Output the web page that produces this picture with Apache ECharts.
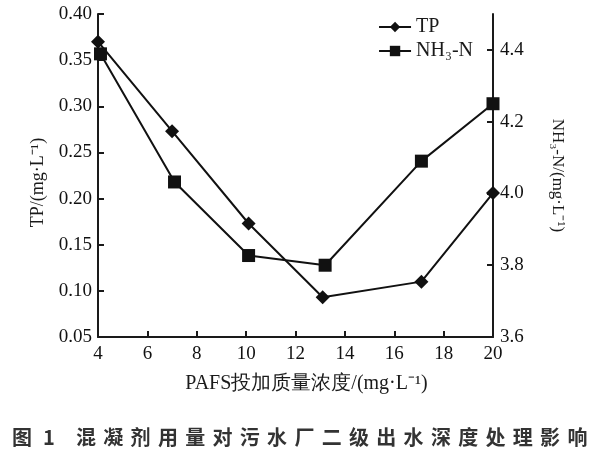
<!DOCTYPE html>
<html><head><meta charset="utf-8">
<script src="https://cdn.jsdelivr.net/npm/echarts@6/dist/echarts.min.js"></script>
<style>html,body{margin:0;padding:0;background:#fff}#c{width:600px;height:450px}</style>
</head><body><div id="c"></div>
<script>
const tpX = [4, 7, 10.1, 13.1, 17.1, 20];
const tpY = [0.370, 0.273, 0.173, 0.093, 0.110, 0.206];
const nhX = [4.1, 7.1, 10.1, 13.2, 17.1, 20];
const nhY = [4.389, 4.032, 3.827, 3.800, 4.090, 4.250];
const xTicks = [4, 6, 8, 10, 12, 14, 16, 18, 20];
const captionLabel = ['图', '1'];
const captionText = '混凝剂用量对污水厂二级出水深度处理影响';

const serif = '"Liberation Serif", "Times New Roman", serif';
const cjkSans = '"Noto Sans CJK SC", sans-serif';
const chart = echarts.init(document.getElementById('c'));
const axisCommon = {
  axisLine: {show: true, lineStyle: {color: '#1a1a1a', width: 2}},
  axisTick: {show: true, inside: true, length: 6, lineStyle: {color: '#1a1a1a', width: 2}},
  splitLine: {show: false},
  axisLabel: {color: '#111', fontFamily: serif, fontSize: 19},
  nameTextStyle: {color: '#1a1a1a', fontFamily: serif, fontSize: 17}
};

const capStyle = ch => ({text: ch, fontFamily: cjkSans, fontSize: 20, fontWeight: 'bold', fill: '#333', verticalAlign: 'middle'});
const capChildren = [
  {type: 'text', x: 12, y: 437, style: capStyle(captionLabel[0])},
  {type: 'text', x: 43, y: 437, style: capStyle(captionLabel[1])}
];
captionText.split('').forEach((ch, i) => {
  capChildren.push({type: 'text', x: 76 + i * 27.3, y: 437, style: capStyle(ch)});
});

chart.setOption({
  animation: false,
  backgroundColor: '#fff',
  grid: {left: 98, right: 107, top: 14, bottom: 113},
  legend: {
    right: 122, top: 12, orient: 'vertical', itemGap: 4, itemWidth: 32, itemHeight: 13,
    textStyle: {fontFamily: serif, fontSize: 20, color: '#1a1a1a'},
    data: ['TP', 'NH₃-N']
  },
  xAxis: Object.assign({}, axisCommon, {
    type: 'value', min: 4, max: 20, interval: 2,
    name: 'PAFS投加质量浓度/(mg·L⁻¹)', nameLocation: 'middle', nameGap: 37,
    nameTextStyle: {color: '#1a1a1a', fontFamily: serif, fontSize: 20, padding: [0, 0, 0, 22]},
    axisLabel: Object.assign({}, axisCommon.axisLabel, {margin: 8})
  }),
  yAxis: [
    Object.assign({}, axisCommon, {
      type: 'value', min: 0.05, max: 0.40, interval: 0.05, position: 'left',
      name: 'TP/(mg·L⁻¹)', nameLocation: 'middle', nameGap: 51, nameRotate: 90,
      nameTextStyle: {color: '#1a1a1a', fontFamily: serif, fontSize: 18, padding: [0, 14, 0, 0]},
      axisLabel: Object.assign({}, axisCommon.axisLabel, {formatter: v => v.toFixed(2), margin: 6})
    }),
    Object.assign({}, axisCommon, {
      type: 'value', min: 3.6, max: 4.5, interval: 0.2, position: 'right',
      name: 'NH₃-N/(mg·L⁻¹)', nameLocation: 'middle', nameGap: 56, nameRotate: -90,
      axisLabel: Object.assign({}, axisCommon.axisLabel, {formatter: v => v.toFixed(1), showMaxLabel: false, margin: 7})
    })
  ],
  series: [
    {name: 'TP', type: 'line', yAxisIndex: 0, symbol: 'diamond', symbolSize: 14,
      data: tpX.map((x, i) => [x, tpY[i]]),
      lineStyle: {color: '#111', width: 2}, itemStyle: {color: '#111'}},
    {name: 'NH₃-N', type: 'line', yAxisIndex: 1, symbol: 'rect', symbolSize: 13,
      data: nhX.map((x, i) => [x, nhY[i]]),
      lineStyle: {color: '#111', width: 2}, itemStyle: {color: '#111'}}
  ],
  graphic: [{type: 'group', children: capChildren}]
});
</script></body></html>
